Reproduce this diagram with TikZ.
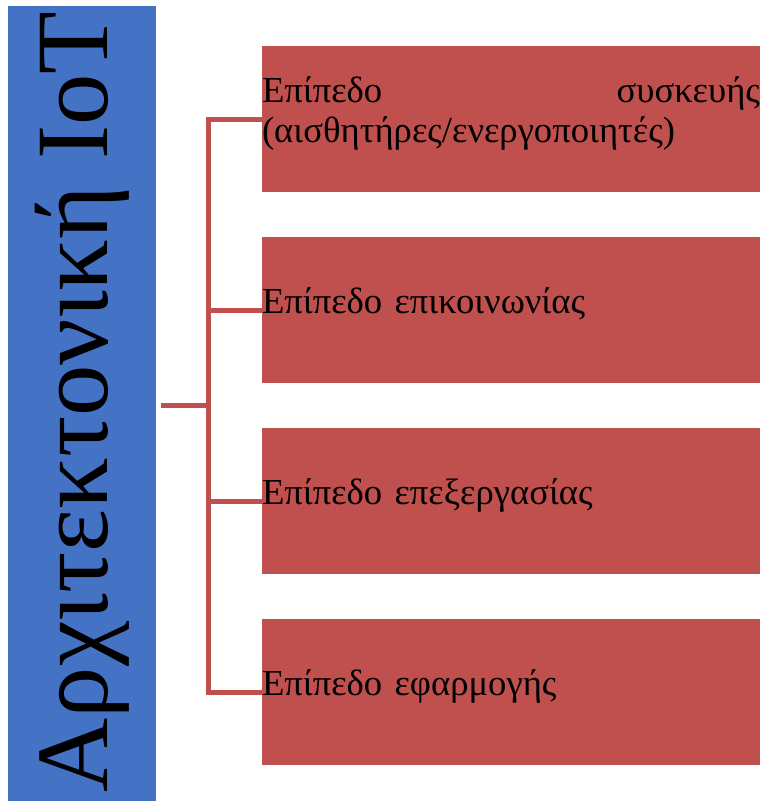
\documentclass[tikz,border=0pt]{standalone}
\usepackage{fontspec}
\setmainfont{Liberation Serif}
\definecolor{titleblue}{RGB}{68,114,196}
\definecolor{layerred}{RGB}{192,80,77}

\tikzset{%
		title box/.style={
			fill=titleblue,
			draw=none,
			minimum width=111pt,
			minimum height=596.25pt,
			inner sep=0pt
		},
		title text/.style={
			rotate=90,
			anchor=base,
			inner sep=0pt,
			font=\fontsize{77}{77}\selectfont
		},
		layer box/.style={
			fill=layerred,
			draw=none,
			minimum width=373.5pt,
			minimum height=109.5pt,
			inner sep=0pt,
			text width=373.5pt,
			align=left,
			text height=17.25pt,
			font=\fontsize{27.5}{30}\selectfont
		},
		branch/.style={
			draw=layerred,
			line width=3.75pt
		},
	}

\begin{document}
\begin{tikzpicture}[x=0.75pt, y=-0.75pt]
			\useasboundingbox (0,0) rectangle (763,801);
			
			% title on the left
			\node [title box] (title) at (81.75,403.75) {};
			\node [title text] (title-text) at (107,402) {Αρχιτεκτονική IoT};
			
			% draw the four layers
			\foreach \l/\d [count=\y] in {{Επίπεδο\hfill συσκευής\\(αισθητήρες/ενεργοποιητές)}/42.75pt,
				{Επίπεδο επικοινωνίας}/12.75pt,
				{Επίπεδο επεξεργασίας}/12.75pt,
				{Επίπεδο εφαρμογής}/12.75pt}
			\node [layer box, text depth=\d] (layer-\y) at (511,119+191*\y-191) {\l};
			
			% join point of the tree
			\coordinate (hub) at (208,405);
			
			% draw line from title to hub
			\draw [branch] ([xshift=3.75pt]title.east |- hub) -- (hub);
			
			% draw branches from hub to layers
			\foreach \i in {1,...,4}
			\draw [branch] (hub) |- (layer-\i.west);
			\end{tikzpicture}
\end{document}
